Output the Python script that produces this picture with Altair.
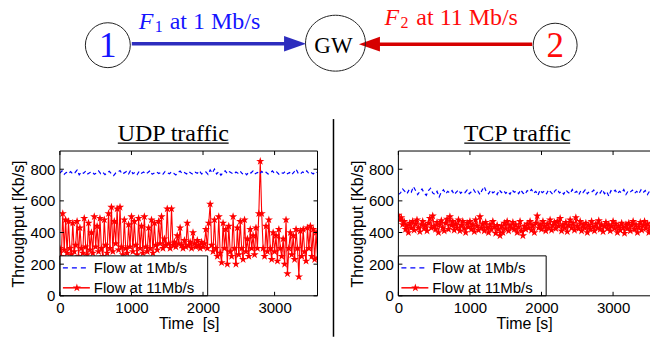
import altair as alt
import pandas as pd

# ---------------- data ----------------
STEP_1MBPS_S = 30   # sampling interval of the 1 Mb/s traces [s]
STEP_11MBPS_S = 20  # sampling interval of the 11 Mb/s traces [s]

udp_flow_1mbps = [
    775, 790, 768, 780, 772, 785, 770, 778, 795, 765,
    782, 774, 788, 770, 779, 784, 768, 776, 790, 772,
    781, 766, 778, 787, 771, 760, 776, 783, 792, 769,
    777, 785, 770, 795, 772, 780, 766, 788, 775, 782,
    770, 779, 791, 768, 776, 784, 773, 780, 769, 786,
    778, 771, 783, 775, 764, 780, 788, 772, 779, 770,
    785, 776, 768, 781, 774, 790, 770, 778, 783, 767,
    795, 776, 801, 770, 785, 762, 779, 790, 772, 784,
    776, 769, 782, 775, 788, 771, 779, 765, 783, 776,
    790, 772, 780, 768, 786, 775, 781, 770, 777, 789,
    773, 782, 769, 780, 774, 786, 771, 779, 765, 782,
    800, 775, 768, 783, 776, 790, 772, 779, 770, 785,
    778,
]
udp_flow_11mbps = [
    300, 250, 520, 290, 480, 270, 470, 300, 260, 460,
    280, 320, 470, 250, 430, 300, 270, 490, 310, 260,
    460, 290, 400, 270, 500, 310, 440, 280, 490, 300,
    250, 480, 320, 270, 520, 300, 560, 280, 470, 330,
    550, 290, 560, 310, 260, 480, 300, 270, 450, 310,
    500, 280, 470, 320, 260, 490, 300, 440, 270, 500,
    310, 280, 430, 300, 480, 270, 460, 320, 290, 470,
    330, 500, 300, 360, 320, 550, 330, 300, 550, 320,
    340, 310, 380, 330, 430, 320, 300, 350, 310, 460,
    320, 340, 300, 400, 330, 310, 350, 320, 300, 340,
    310, 330, 420, 300, 460, 580, 320, 280, 480, 300,
    250, 500, 270, 210, 460, 300, 420, 200, 440, 280,
    250, 500, 300, 200, 430, 260, 470, 300, 230, 480,
    280, 360, 250, 420, 300, 380, 260, 430, 300, 520,
    850, 520, 300, 250, 440, 280, 480, 300, 230, 400,
    280, 380, 220, 420, 300, 250, 360, 200, 480, 140,
    300, 400, 260, 380, 230, 420, 300, 120, 410, 250,
    420, 280, 220, 430, 300, 440, 250, 420, 230, 400,
    240,
]
tcp_flow_1mbps = [
    640, 650, 675, 660, 645, 670, 655, 690, 665, 640,
    660, 675, 650, 635, 665, 680, 650, 640, 660, 625,
    655, 670, 645, 660, 650, 665, 640, 655, 670, 648,
    660, 652, 668, 645, 658, 672, 650, 662, 640, 668,
    690, 655, 645, 668, 650, 660, 640, 670, 652, 665,
    648, 660, 642, 668, 655, 662, 645, 670, 650, 640,
    665, 655, 672, 648, 660, 635, 668, 652, 662, 645,
    670, 655, 640, 665, 675, 650, 660, 642, 668, 655,
    645, 672, 650, 660, 638, 665, 652, 670, 645, 660,
    655, 668, 640, 662, 650, 672, 645, 660, 630, 665,
    655, 668, 645, 660, 650, 672, 640, 662, 655, 668,
    648, 660, 645, 670, 652, 665, 640, 662, 655, 668,
    650,
]
tcp_flow_11mbps = [
    510, 480, 495, 450, 470, 420, 445, 400, 460, 430,
    470, 415, 455, 480, 430, 405, 450, 470, 425, 445,
    410, 460, 490, 430, 505, 440, 420, 465, 400, 450,
    475, 430, 410, 460, 485, 420, 500, 445, 470, 415,
    455, 430, 480, 410, 445, 470, 425, 400, 460, 435,
    470, 420, 450, 405, 480, 440, 415, 500, 430, 455,
    410, 465, 430, 400, 450, 420, 470, 435, 395, 445,
    420, 380, 440, 400, 460, 425, 470, 410, 445, 430,
    465, 420, 450, 400, 435, 470, 410, 380, 440, 420,
    455, 430, 470, 415, 445, 400, 460, 505, 430, 450,
    420, 470, 440, 410, 455, 430, 480, 415, 445, 465,
    425, 470, 440, 490, 410, 450, 430, 465, 405, 445,
    480, 430, 460, 415, 495, 440, 425, 470, 410, 450,
    430, 460, 400, 445, 420, 470, 435, 410, 455, 430,
    475, 420, 450, 405, 440, 465, 425, 450, 410, 440,
    470, 425, 455, 400, 440, 415, 460, 430, 395, 450,
    425, 460, 410, 445, 470, 420, 450, 400, 435, 465,
    415, 445, 470, 425, 455, 400, 440, 460, 420, 450,
    435,
]

series_names = ["Flow at 1Mb/s", "Flow at 11Mb/s"]
panel_titles = ["UDP traffic", "TCP traffic"]
x_titles = ["Time\u00a0 [s]", "Time [s]"]
y_title = "Throughput [Kb/s]"
x_tick_values = [0, 1000, 2000, 3000]
y_tick_values = [0, 200, 400, 600, 800]

node_labels = ["1", "GW", "2"]
flow_symbol = "F"
flow_subscripts = ["1", "2"]
flow_rates = ["at 1 Mb/s", "at 11 Mb/s"]

# ---------------- style / layout ----------------
SANS = "Liberation Sans"
SERIF = "Liberation Serif"
BLUE = "#0000FF"
RED = "#FF0000"
TXT_BLUE = "#1414FF"
TXT_RED = "#FF0A0A"
ARROW_BLUE = "#2D2DBE"
ARROW_RED = "#D60000"
YMAX = 915
PANEL_H = 145
PAD_LEFT = 10
ORIGIN_X = 59  # page x of the plot origins (column alignment of the concat)
STAR = ("M0,-1L0.225,-0.309L0.951,-0.309L0.363,0.118L0.588,0.809L0,0.382"
        "L-0.588,0.809L-0.363,0.118L-0.951,-0.309L-0.225,-0.309Z")
ELLIPSE = "M-1,0A1,0.933,0,1,1,1,0A1,0.933,0,1,1,-1,0Z"
TRI_RIGHT = "M-1,-0.7L1,0L-1,0.7Z"
TRI_LEFT = "M1,-0.7L-1,0L1,0.7Z"

one = pd.DataFrame({"k": [0]})


def series_frame(values, step):
    return pd.DataFrame({"t": [i * step for i in range(len(values))], "v": values})


def panel(title, flow1, flow2, x_max, width, x_title, title_cx, underline,
          right_edge, separator_x=None):
    xs = alt.Scale(domain=[0, x_max], nice=False, zero=False)
    ys = alt.Scale(domain=[0, YMAX], nice=False, zero=False)
    x_axis = alt.Axis(values=x_tick_values, title=x_title, ticks=False, domain=False,
                      grid=False, labelFlush=False, labelFont=SANS, labelFontSize=15,
                      labelColor="black", labelPadding=5, titleFont=SANS,
                      titleFontSize=16, titleFontWeight="normal", titleColor="black",
                      titlePadding=0, format="d")
    y_axis = alt.Axis(values=y_tick_values, title=y_title, ticks=False, domain=False,
                      grid=False, labelFlush=False, labelFont=SANS, labelFontSize=15,
                      labelColor="black", labelPadding=5, titleFont=SANS,
                      titleFontSize=16, titleFontWeight="normal", titleColor="black",
                      titlePadding=3, format="d")

    def X(f):
        return alt.X(f, type="quantitative", scale=xs, axis=x_axis)

    def Y(f):
        return alt.Y(f, type="quantitative", scale=ys, axis=y_axis)

    d1 = series_frame(flow1, STEP_1MBPS_S)
    d2 = series_frame(flow2, STEP_11MBPS_S)
    layers = []
    layers.append(alt.Chart(d2).mark_line(color=RED, strokeWidth=1.1, clip=True)
                  .encode(x=X("t"), y=Y("v")))
    layers.append(alt.Chart(d2).mark_point(shape=STAR, size=75, filled=True, color=RED,
                                           opacity=1, clip=True)
                  .encode(x=X("t"), y=Y("v")))
    layers.append(alt.Chart(d1).mark_line(color=BLUE, strokeWidth=1.2, strokeDash=[4, 3],
                                          clip=True)
                  .encode(x=X("t"), y=Y("v")))

    # legend box
    layers.append(alt.Chart(one).mark_rect(fill="white", stroke="black", strokeWidth=1)
                  .encode(x=alt.value(0), x2=alt.value(148), y=alt.value(105),
                          y2=alt.value(PANEL_H)))
    rows_y = [117, 137]
    layers.append(alt.Chart(one).mark_rule(color=BLUE, strokeWidth=1.2, strokeDash=[5, 4])
                  .encode(x=alt.value(3), x2=alt.value(30), y=alt.value(rows_y[0])))
    layers.append(alt.Chart(one).mark_rule(color=RED, strokeWidth=1.5)
                  .encode(x=alt.value(3), x2=alt.value(30), y=alt.value(rows_y[1])))
    layers.append(alt.Chart(one).mark_point(shape=STAR, size=75, filled=True, color=RED,
                                            opacity=1)
                  .encode(x=alt.value(17), y=alt.value(rows_y[1])))
    for name, ry in zip(series_names, rows_y):
        layers.append(alt.Chart(pd.DataFrame({"name": [name]}))
                      .mark_text(font=SANS, fontSize=15, color="black", align="left",
                                 baseline="middle")
                      .encode(text="name:N", x=alt.value(34), y=alt.value(ry)))

    # frame
    layers.append(alt.Chart(one).mark_rule(color="black", strokeWidth=1)
                  .encode(x=alt.value(0), x2=alt.value(width), y=alt.value(0)))
    layers.append(alt.Chart(one).mark_rule(color="black", strokeWidth=1)
                  .encode(x=alt.value(0), x2=alt.value(width), y=alt.value(PANEL_H)))
    layers.append(alt.Chart(one).mark_rule(color="black", strokeWidth=1)
                  .encode(x=alt.value(0), y=alt.value(0), y2=alt.value(PANEL_H)))
    if right_edge:
        layers.append(alt.Chart(one).mark_rule(color="black", strokeWidth=1)
                      .encode(x=alt.value(width), y=alt.value(0), y2=alt.value(PANEL_H)))

    # inward ticks
    xt = pd.DataFrame({"tick": x_tick_values})
    yt = pd.DataFrame({"tick": y_tick_values})
    layers.append(alt.Chart(xt).mark_rule(color="black", strokeWidth=1)
                  .encode(x=X("tick"), y=alt.value(PANEL_H), y2=alt.value(PANEL_H - 4)))
    layers.append(alt.Chart(xt).mark_rule(color="black", strokeWidth=1)
                  .encode(x=X("tick"), y=alt.value(0), y2=alt.value(4)))
    layers.append(alt.Chart(yt).mark_rule(color="black", strokeWidth=1)
                  .encode(y=Y("tick"), x=alt.value(0), x2=alt.value(4)))
    if right_edge:
        layers.append(alt.Chart(yt).mark_rule(color="black", strokeWidth=1)
                      .encode(y=Y("tick"), x=alt.value(width), x2=alt.value(width - 4)))

    # panel title (underlined)
    layers.append(alt.Chart(pd.DataFrame({"t": [title]}))
                  .mark_text(font=SERIF, fontSize=24, color="black", align="center",
                             baseline="alphabetic")
                  .encode(text="t:N", x=alt.value(title_cx), y=alt.value(-10)))
    layers.append(alt.Chart(one).mark_rule(color="black", strokeWidth=1.2)
                  .encode(x=alt.value(underline[0]), x2=alt.value(underline[1]),
                          y=alt.value(-8)))
    if separator_x is not None:
        layers.append(alt.Chart(one).mark_rule(color="black", strokeWidth=1.5)
                      .encode(x=alt.value(separator_x), y=alt.value(-32),
                              y2=alt.value(186)))

    return alt.layer(*layers).properties(width=width, height=PANEL_H)


udp = panel(panel_titles[0], udp_flow_1mbps, udp_flow_11mbps, 3600, 258, x_titles[0],
            113.5, (58, 169), True, separator_x=274)
tcp = panel(panel_titles[1], tcp_flow_1mbps, tcp_flow_11mbps, 3516, 252, x_titles[1],
            119, (66, 172), False)

# ---------------- network diagram ----------------
DW, DH = 590, 100
dxs = alt.Scale(domain=[ORIGIN_X, ORIGIN_X + DW], nice=False, zero=False)
dys = alt.Scale(domain=[0, DH], nice=False, zero=False, reverse=True)


def DX(f):
    return alt.X(f, type="quantitative", scale=dxs, axis=None)


def DY(f):
    return alt.Y(f, type="quantitative", scale=dys, axis=None)


def pos(**kw):
    return pd.DataFrame({k: [v] for k, v in kw.items()})


dl = []
# arrows
dl.append(alt.Chart(pos(x=131, x2=285, y=43.5)).mark_rule(color=ARROW_BLUE, strokeWidth=3.5)
          .encode(x=DX("x"), x2="x2", y=DY("y")))
dl.append(alt.Chart(pos(x=294.5, y=43.5)).mark_point(shape=TRI_RIGHT, size=22 ** 2,
                                                     filled=True, color=ARROW_BLUE, opacity=1)
          .encode(x=DX("x"), y=DY("y")))
dl.append(alt.Chart(pos(x=376, x2=532, y=44)).mark_rule(color=ARROW_RED, strokeWidth=3.5)
          .encode(x=DX("x"), x2="x2", y=DY("y")))
dl.append(alt.Chart(pos(x=369, y=44)).mark_point(shape=TRI_LEFT, size=21 ** 2,
                                                 filled=True, color=ARROW_RED, opacity=1)
          .encode(x=DX("x"), y=DY("y")))
# node outlines
dl.append(alt.Chart(pos(x=107, y=45)).mark_point(shape="circle", size=45 ** 2, filled=False,
                                                 color="#222222", strokeWidth=1, opacity=1)
          .encode(x=DX("x"), y=DY("y")))
dl.append(alt.Chart(pos(x=555, y=45)).mark_point(shape="circle", size=44 ** 2, filled=False,
                                                 color="#222222", strokeWidth=1, opacity=1)
          .encode(x=DX("x"), y=DY("y")))
dl.append(alt.Chart(pos(x=335, y=43)).mark_point(shape=ELLIPSE, size=60 ** 2, filled=False,
                                                 color="#222222", strokeWidth=1, opacity=1)
          .encode(x=DX("x"), y=DY("y")))
# node labels
dl.append(alt.Chart(pos(x=107, y=57, t=node_labels[0]))
          .mark_text(font=SERIF, fontSize=35, color=TXT_BLUE, align="center",
                     baseline="alphabetic")
          .encode(x=DX("x"), y=DY("y"), text="t:N"))
dl.append(alt.Chart(pos(x=333, y=53, t=node_labels[1]))
          .mark_text(font=SERIF, fontSize=23, color="black", align="center",
                     baseline="alphabetic")
          .encode(x=DX("x"), y=DY("y"), text="t:N"))
dl.append(alt.Chart(pos(x=555, y=57, t=node_labels[2]))
          .mark_text(font=SERIF, fontSize=35, color=TXT_RED, align="center",
                     baseline="alphabetic")
          .encode(x=DX("x"), y=DY("y"), text="t:N"))
# flow labels
for (fx, sx, rx, by), sub, rate, col in zip(
        [(138, 154, 169, 28.5), (384, 400, 416, 25)], flow_subscripts, flow_rates,
        [TXT_BLUE, TXT_RED]):
    dl.append(alt.Chart(pos(x=fx, y=by, t=flow_symbol))
              .mark_text(font=SERIF, fontSize=24, fontStyle="italic", color=col,
                         align="left", baseline="alphabetic")
              .encode(x=DX("x"), y=DY("y"), text="t:N"))
    dl.append(alt.Chart(pos(x=sx, y=by + 3, t=sub))
              .mark_text(font=SERIF, fontSize=16, color=col, align="left",
                         baseline="alphabetic")
              .encode(x=DX("x"), y=DY("y"), text="t:N"))
    dl.append(alt.Chart(pos(x=rx, y=by, t=rate))
              .mark_text(font=SERIF, fontSize=24, color=col, align="left",
                         baseline="alphabetic")
              .encode(x=DX("x"), y=DY("y"), text="t:N"))

diagram = alt.layer(*dl).properties(width=DW, height=DH)

chart = alt.vconcat(
    diagram,
    alt.hconcat(udp, tcp, spacing=14),
    spacing=18,
).properties(
    padding={"left": PAD_LEFT, "top": 0, "right": 0, "bottom": 0},
    background="white",
).configure_view(strokeWidth=0)

chart.save("out.html", embed_options={"renderer": "svg", "actions": False})
